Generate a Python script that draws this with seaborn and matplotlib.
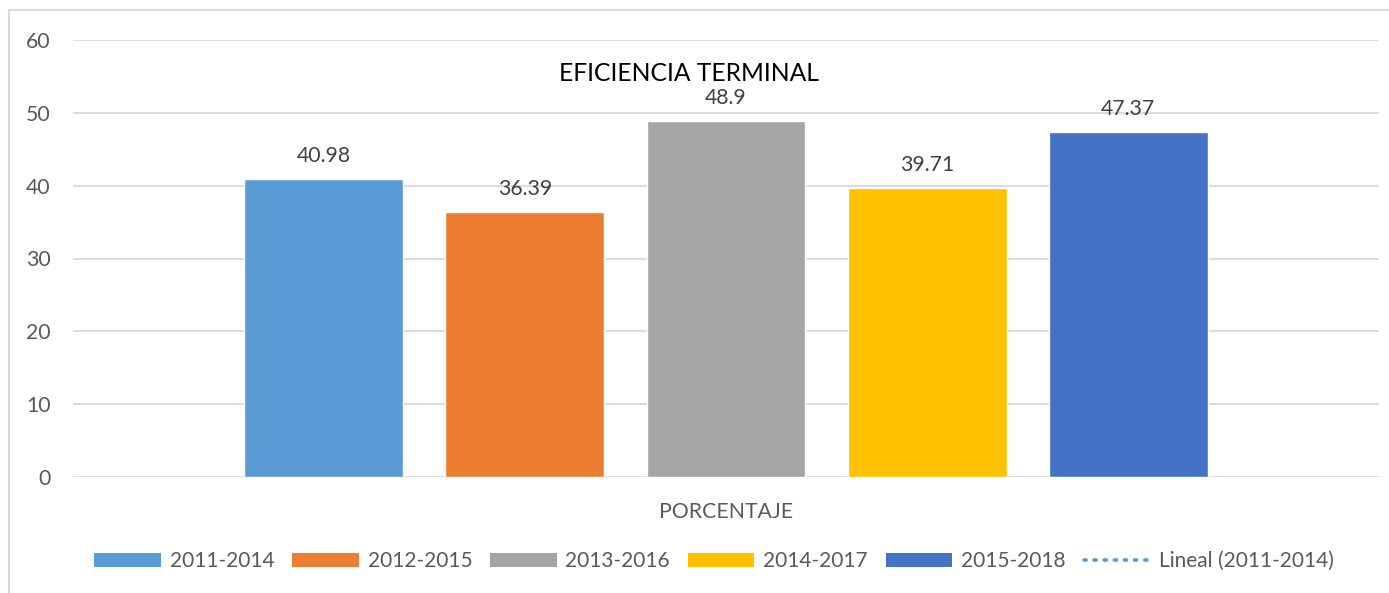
import pandas as pd
import seaborn as sns
import matplotlib.pyplot as plt
from matplotlib.patches import Patch, Rectangle
from matplotlib.lines import Line2D

categoria = ['PORCENTAJE']
periodos = ['2011-2014', '2012-2015', '2013-2016', '2014-2017', '2015-2018']
valores = [40.98, 36.39, 48.9, 39.71, 47.37]
etiquetas = ['40.98', '36.39', '48.9', '39.71', '47.37']
colores = ['#5B9BD5', '#ED7D31', '#A5A5A5', '#FFC000', '#4472C4']

df = pd.DataFrame({'categoria': categoria * len(periodos),
                   'periodo': periodos,
                   'valor': valores})

sns.set_style('white')
plt.rcParams['font.family'] = ['Lato', 'DejaVu Sans']
gris = '#595959'

fig = plt.figure(figsize=(13.89, 5.93), dpi=100)
ax = fig.add_axes([73 / 1389, 1 - 477 / 593, (1379 - 73) / 1389, (477 - 40) / 593])

sns.barplot(data=df, x='categoria', y='valor', hue='periodo', palette=colores,
            width=0.77, gap=0.21, legend=False, ax=ax, saturation=1)

for cont, lab in zip(ax.containers, etiquetas):
    ax.bar_label(cont, labels=[lab], padding=9, fontsize=15.3, color='#404040')

ax.set_xlim(-0.5, 0.5)
ax.set_ylim(0, 60)
ax.set_yticks(range(0, 61, 10))
ax.grid(axis='y', color='#D9D9D9', linewidth=1.3)
ax.set_axisbelow(True)
for s in ax.spines.values():
    s.set_visible(False)
ax.tick_params(axis='both', length=0, labelsize=15.3, labelcolor=gris)
ax.tick_params(axis='y', pad=16)
ax.tick_params(axis='x', pad=18)
ax.set_xlabel('')
ax.set_ylabel('')

ax.text(0.472, 0.924, 'EFICIENCIA TERMINAL', transform=ax.transAxes,
        ha='center', va='center', fontsize=17.7, color='black')

handles = [Patch(facecolor=c, edgecolor='none') for c in colores]
handles.append(Line2D([], [], color='#5B9BD5', linestyle=(0, (0.6, 2.2)),
                      linewidth=2.6, dash_capstyle='round'))
nombres = periodos + ['Lineal (2011-2014)']
fig.legend(handles, nombres, loc='center', bbox_to_anchor=(714 / 1389, 1 - 561 / 593),
           ncol=6, frameon=False, fontsize=15.0, labelcolor=gris,
           handlelength=3.2, handleheight=0.68, handletextpad=0.43, columnspacing=0.85)

fig.patches.append(Rectangle((9 / 1389, -0.1), 1.2, 1 - 10 / 593 + 0.1,
                             transform=fig.transFigure, fill=False,
                             edgecolor='#D9D9D9', linewidth=1.5))

plt.savefig('out.png', dpi=100)
